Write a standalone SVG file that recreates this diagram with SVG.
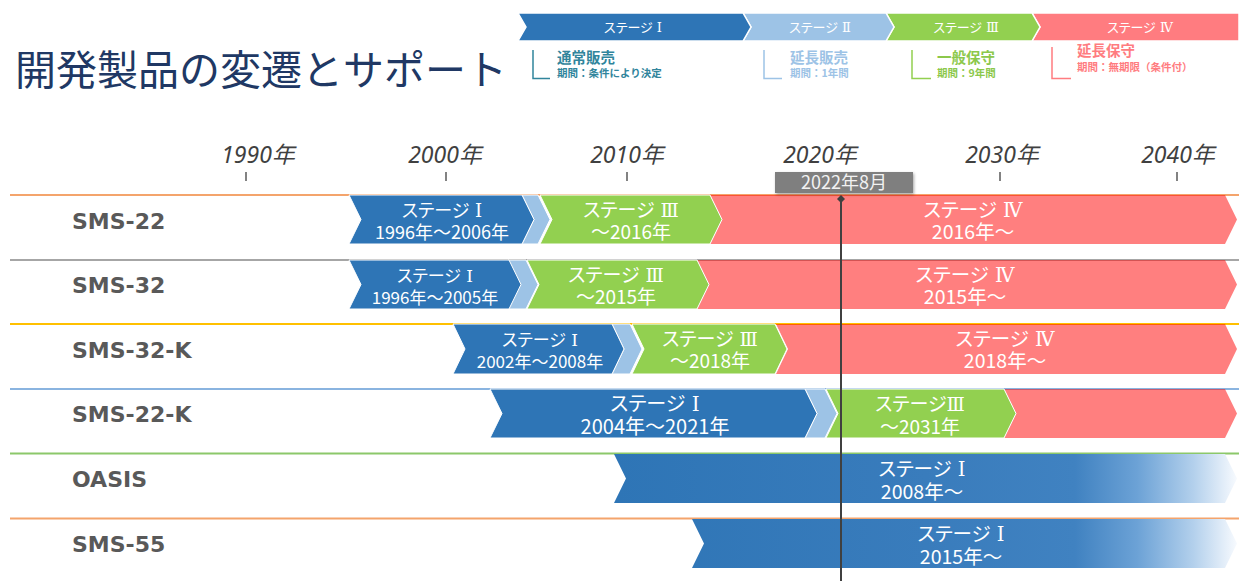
<svg xmlns="http://www.w3.org/2000/svg" width="1239" height="581" viewBox="0 0 1239 581">
<style>
.t{font-family:"Noto Sans CJK JP","Noto Sans",sans-serif;}
.bt{font-family:"Noto Sans CJK JP","Noto Sans",sans-serif;fill:#ffffff;text-anchor:middle;font-feature-settings:"palt";}
.rn{font-family:"DejaVu Serif","Noto Sans CJK JP",serif;}
.lbl{font-family:"DejaVu Sans","Noto Sans",sans-serif;font-weight:bold;font-size:22px;fill:#595959;}
.yr{font-family:"Noto Sans","Noto Sans CJK JP",sans-serif;font-style:italic;font-size:23px;fill:#404040;text-anchor:middle;}
.tick{stroke:#595959;stroke-width:1.5;}
.b{fill:#2E75B6;stroke:#ffffff;stroke-width:1;}
.lb{fill:#9DC3E6;stroke:#ffffff;stroke-width:1;}
.g{fill:#92D050;stroke:#ffffff;stroke-width:1;}
.r{fill:#FF0000;fill-opacity:0.5;}
.sep{stroke-width:2;fill:none;}
.lt{font-family:"Noto Sans CJK JP",sans-serif;font-weight:bold;}
</style>
<defs>
<linearGradient id="fade" gradientUnits="userSpaceOnUse" x1="614" y1="0" x2="1237" y2="0">
<stop offset="0" stop-color="#2E75B6"/>
<stop offset="0.5" stop-color="#397CBC"/>
<stop offset="0.74" stop-color="#4082C1"/>
<stop offset="0.84" stop-color="#6CA2D6"/>
<stop offset="0.93" stop-color="#B3D0EC"/>
<stop offset="1" stop-color="#F7FAFE"/>
</linearGradient>
<filter id="sh" x="-10%" y="-30%" width="130%" height="180%">
<feDropShadow dx="1" dy="1.5" stdDeviation="1.5" flood-color="#000000" flood-opacity="0.35"/>
</filter>
</defs>
<rect width="1239" height="581" fill="#ffffff"/>

<g id="title">
<text class="t" x="15" y="85" font-size="41" fill="#203864">開発製品の変遷とサポート</text>
</g>

<g id="legend">
<polygon points="1032,13 1239,13 1239,41 1032,41 1040,27" fill="#FF7C80" stroke="#ffffff" stroke-width="1.5"/>
<polygon points="886,13 1032,13 1040,27 1032,41 886,41 894,27" fill="#92D050" stroke="#ffffff" stroke-width="1.5"/>
<polygon points="743,13 886,13 894,27 886,41 743,41 751,27" fill="#9DC3E6" stroke="#ffffff" stroke-width="1.5"/>
<polygon points="518,13 743,13 751,27 743,41 518,41 526,27" fill="#2E75B6" stroke="#ffffff" stroke-width="1.5"/>
<text class="bt rn" x="633" y="32" font-size="13">ステージ Ⅰ</text>
<text class="bt rn" x="820" y="32" font-size="13">ステージ Ⅱ</text>
<text class="bt rn" x="966" y="32" font-size="13">ステージ Ⅲ</text>
<text class="bt rn" x="1140" y="32" font-size="13">ステージ Ⅳ</text>

<polyline points="533,50 533,78.5 550,78.5" fill="none" stroke="#31859C" stroke-width="1.5"/>
<text class="lt" x="557" y="63" font-size="14.5" fill="#31859C">通常販売</text>
<text class="lt" x="557" y="77" font-size="10.5" fill="#31859C">期間：条件により決定</text>

<polyline points="764,50 764,78.5 782,78.5" fill="none" stroke="#9DC3E6" stroke-width="1.5"/>
<text class="lt" x="790" y="63" font-size="14.5" fill="#9DC3E6">延長販売</text>
<text class="lt" x="790" y="77" font-size="10.5" fill="#9DC3E6">期間：1年間</text>

<polyline points="912,50 912,78.5 931,78.5" fill="none" stroke="#92D050" stroke-width="1.5"/>
<text class="lt" x="937" y="63" font-size="14.5" fill="#8CC84B">一般保守</text>
<text class="lt" x="937" y="77" font-size="10.5" fill="#8CC84B">期間：9年間</text>

<polyline points="1052,47 1052,78.5 1071,78.5" fill="none" stroke="#FF7C80" stroke-width="1.5"/>
<text class="lt" x="1077" y="56" font-size="14.5" fill="#FF7C80">延長保守</text>
<text class="lt" x="1077" y="71" font-size="10.5" fill="#FF7C80">期間：無期限（条件付）</text>
</g>

<g id="axis">
<text class="yr" x="258" y="163">1990年</text>
<text class="yr" x="445" y="163">2000年</text>
<text class="yr" x="627" y="163">2010年</text>
<text class="yr" x="820" y="163">2020年</text>
<text class="yr" x="1002" y="163">2030年</text>
<text class="yr" x="1178" y="163">2040年</text>
<line class="tick" x1="246" y1="172" x2="246" y2="181"/>
<line class="tick" x1="446" y1="172" x2="446" y2="181"/>
<line class="tick" x1="627" y1="172" x2="627" y2="181"/>
<line class="tick" x1="819" y1="172" x2="819" y2="181"/>
<line class="tick" x1="1000" y1="172" x2="1000" y2="181"/>
<line class="tick" x1="1177" y1="172" x2="1177" y2="181"/>
</g>

<g id="row-sms22">
<line class="sep" x1="10" y1="195" x2="1239" y2="195" stroke="#F4A46C"/>
<text class="lbl" x="72" y="229">SMS-22</text>
<polygon class="r" points="710,195 1225,195 1237,219.5 1225,244 710,244 722,219.5"/>
<polygon class="g" points="540,195 710,195 722,219.5 710,244 540,244 552,219.5"/>
<polygon class="lb" points="522,195 538,195 550,219.5 538,244 522,244 534,219.5"/>
<polygon class="b" points="349,195 522,195 534,219.5 522,244 349,244 361,219.5"/>
<text class="bt" font-size="18"><tspan class="rn" x="442" y="217">ステージ Ⅰ</tspan><tspan x="442" y="239">1996年～2006年</tspan></text>
<text class="bt" font-size="19"><tspan class="rn" x="631" y="217">ステージ Ⅲ</tspan><tspan x="631" y="239">～2016年</tspan></text>
<text class="bt" font-size="19.5"><tspan class="rn" x="973" y="217">ステージ Ⅳ</tspan><tspan x="973" y="239">2016年～</tspan></text>
</g>

<g id="row-sms32">
<line class="sep" x1="10" y1="260" x2="1239" y2="260" stroke="#A6A6A6"/>
<text class="lbl" x="72" y="293">SMS-32</text>
<polygon class="r" points="697,260 1225,260 1237,284.5 1225,309 697,309 709,284.5"/>
<polygon class="g" points="527,260 697,260 709,284.5 697,309 527,309 539,284.5"/>
<polygon class="lb" points="508,260 526,260 538,284.5 526,309 508,309 520,284.5"/>
<polygon class="b" points="349,260 509,260 521,284.5 509,309 349,309 361,284.5"/>
<text class="bt" font-size="17"><tspan class="rn" x="435" y="282">ステージ Ⅰ</tspan><tspan x="435" y="304">1996年～2005年</tspan></text>
<text class="bt" font-size="19"><tspan class="rn" x="616" y="282">ステージ Ⅲ</tspan><tspan x="616" y="304">～2015年</tspan></text>
<text class="bt" font-size="19.5"><tspan class="rn" x="965" y="282">ステージ Ⅳ</tspan><tspan x="965" y="304">2015年～</tspan></text>
</g>

<g id="row-sms32k">
<line class="sep" x1="10" y1="324" x2="1239" y2="324" stroke="#FFC000"/>
<text class="lbl" x="72" y="358">SMS-32-K</text>
<polygon class="r" points="776,324 1225,324 1237,349 1225,374 776,374 788,349"/>
<polygon class="g" points="632,324 775,324 787,349 775,374 632,374 644,349"/>
<polygon class="lb" points="612,324 630,324 642,349 630,374 612,374 624,349"/>
<polygon class="b" points="453,324 612,324 624,349 612,374 453,374 465,349"/>
<text class="bt" font-size="17"><tspan class="rn" x="540" y="346">ステージ Ⅰ</tspan><tspan x="540" y="368">2002年～2008年</tspan></text>
<text class="bt" font-size="19"><tspan class="rn" x="710" y="346">ステージ Ⅲ</tspan><tspan x="710" y="368">～2018年</tspan></text>
<text class="bt" font-size="19.5"><tspan class="rn" x="1005" y="346">ステージ Ⅳ</tspan><tspan x="1005" y="368">2018年～</tspan></text>
</g>

<g id="row-sms22k">
<line class="sep" x1="10" y1="389" x2="1239" y2="389" stroke="#8AB4E0"/>
<text class="lbl" x="72" y="422">SMS-22-K</text>
<polygon class="r" points="1004,389 1225,389 1237,413.5 1225,438 1004,438 1016,413.5"/>
<polygon class="g" points="826,389 1004,389 1016,413.5 1004,438 826,438 838,413.5"/>
<polygon class="lb" points="805,389 825,389 837,413.5 825,438 805,438 817,413.5"/>
<polygon class="b" points="490,389 805,389 817,413.5 805,438 490,438 502,413.5"/>
<text class="bt" font-size="20"><tspan class="rn" x="655" y="411">ステージ Ⅰ</tspan><tspan x="655" y="434">2004年～2021年</tspan></text>
<text class="bt" font-size="19"><tspan class="rn" x="920" y="411">ステージⅢ</tspan><tspan x="920" y="434">～2031年</tspan></text>
</g>

<g id="row-oasis">
<line class="sep" x1="10" y1="453.5" x2="1239" y2="453.5" stroke="#8CC86A"/>
<text class="lbl" x="72" y="487">OASIS</text>
<polygon points="614,454 1225,454 1237,478.5 1225,503 614,503 626,478.5" fill="url(#fade)"/>
<text class="bt" font-size="19.5"><tspan class="rn" x="922" y="476">ステージ Ⅰ</tspan><tspan x="922" y="499">2008年～</tspan></text>
</g>

<g id="row-sms55">
<line class="sep" x1="10" y1="518.5" x2="1239" y2="518.5" stroke="#F4A46C"/>
<text class="lbl" x="72" y="552">SMS-55</text>
<polygon points="692,519 1225,519 1237,543.5 1225,568 692,568 704,543.5" fill="url(#fade)"/>
<text class="bt" font-size="19.5"><tspan class="rn" x="961" y="541">ステージ Ⅰ</tspan><tspan x="961" y="564">2015年～</tspan></text>
</g>

<g id="connectors">
<line x1="841" y1="199" x2="841" y2="581" stroke="#404040" stroke-width="2"/>
<polygon points="841,195 845,199 841,203 837,199" fill="#404040"/>
</g>

<g id="today-marker">
<rect x="775" y="172" width="138" height="21" fill="#7F7F7F" filter="url(#sh)"/>
<text class="t" x="844" y="189" font-size="18" fill="#F2F2F2" text-anchor="middle">2022年8月</text>
</g>
</svg>
